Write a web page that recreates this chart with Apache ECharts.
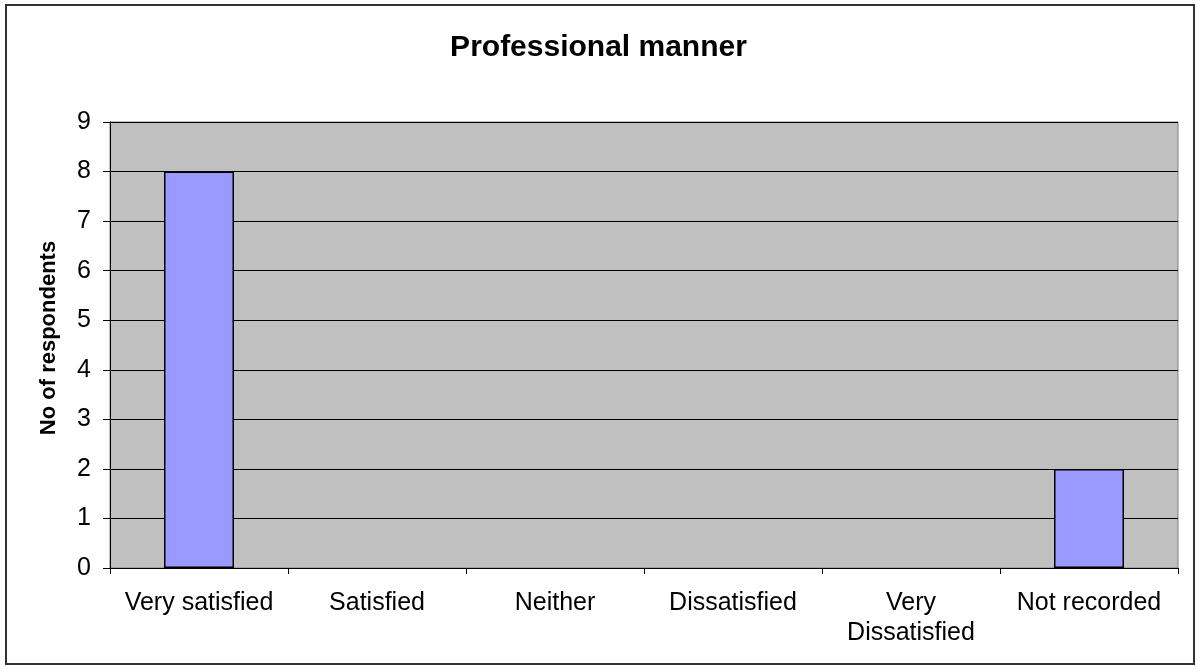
<!DOCTYPE html>
<html>
<head>
<meta charset="utf-8">
<script src="https://cdn.jsdelivr.net/npm/echarts@6/dist/echarts.min.js"></script>
<style>
html,body{margin:0;padding:0;background:#fff;}
#chart{width:1197px;height:669px;}
</style>
</head>
<body>
<div id="chart"></div>
<script>
const categories = ['Very satisfied', 'Satisfied', 'Neither', 'Dissatisfied', 'Very\nDissatisfied', 'Not recorded'];
const values = [8, 0, 0, 0, 0, 2];
const yTicks = [0, 1, 2, 3, 4, 5, 6, 7, 8, 9];

const chart = echarts.init(document.getElementById('chart'));
const ARIAL = '"Liberation Sans", Arial, sans-serif';
chart.setOption({
  animation: false,
  backgroundColor: '#fff',
  title: {
    text: 'Professional manner',
    left: 'center',
    top: 28,
    textStyle: { fontFamily: ARIAL, fontSize: 30, fontWeight: 'bold', color: '#000' }
  },
  graphic: [{
    type: 'rect',
    shape: { x: 6, y: 5, width: 1188, height: 659 },
    style: { fill: 'none', stroke: '#333', lineWidth: 2 },
    z: 100
  }],
  grid: {
    left: 110, right: 19, top: 122, bottom: 101,
    show: true, backgroundColor: '#C0C0C0', borderColor: '#808080', borderWidth: 1
  },
  xAxis: {
    type: 'category',
    data: categories,
    axisLine: { lineStyle: { color: '#000', width: 1 } },
    axisTick: { show: true, length: 6, lineStyle: { color: '#000' } },
    axisLabel: { fontFamily: ARIAL, fontSize: 25, color: '#000', margin: 20, lineHeight: 30, interval: 0 }
  },
  yAxis: {
    type: 'value',
    min: yTicks[0], max: yTicks[yTicks.length - 1], interval: 1,
    name: 'No of respondents',
    nameLocation: 'middle',
    nameGap: 50,
    nameTextStyle: { fontFamily: ARIAL, fontSize: 22, fontWeight: 'bold', color: '#000', padding: [0, 0, 0, 14] },
    axisLine: { show: true, lineStyle: { color: '#000', width: 1 } },
    axisTick: { show: true, length: 7, lineStyle: { color: '#000' } },
    axisLabel: { fontFamily: ARIAL, fontSize: 25, color: '#000', margin: 19 },
    splitLine: { show: true, lineStyle: { color: '#000', width: 1 } }
  },
  series: [{
    type: 'bar',
    data: values.map(v => v === 0 ? { value: v, itemStyle: { borderWidth: 0 } } : v),
    barWidth: 70,
    itemStyle: { color: '#9999FF', borderColor: '#000', borderWidth: 1.5 }
  }]
});
</script>
</body>
</html>
